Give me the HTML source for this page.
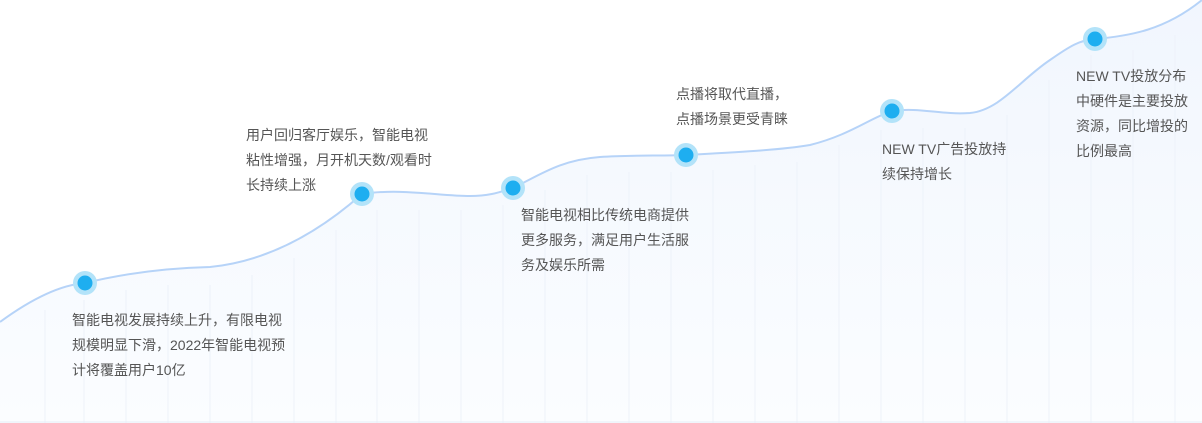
<!DOCTYPE html>
<html><head><meta charset="utf-8"><style>
body{margin:0;width:1202px;height:423px;overflow:hidden;background:#fff;position:relative;font-family:"Liberation Sans","Noto Sans CJK SC",sans-serif;}
.t{position:absolute;font-size:14px;line-height:25px;color:#555;}
</style></head><body>
<svg width="1202" height="423" style="position:absolute;left:0;top:0">
<defs><linearGradient id="g" x1="0" y1="0" x2="0" y2="1"><stop offset="0" stop-color="#f1f6fe"/><stop offset="1" stop-color="#fbfdff"/></linearGradient></defs>
<path d="M0,322 C30,300 60,285 85,283 C130,272 170,268 210,267 C260,262 310,240 362,194 C400,188 440,196 470,196 C490,196 500,192 513,188 C540,175 560,160 600,157 C630,155 660,156 686,155 C740,152 780,150 810,145 C850,135 870,118 892,111 C920,107 940,115 970,113 C1000,110 1020,80 1050,60 C1070,46 1080,40 1095,39 C1130,36 1165,30 1202,0 L1202,423 L0,423 Z" fill="url(#g)"/>
<g stroke="#edf2f9" stroke-width="1">
<line x1="45" y1="310" x2="45" y2="423"/><line x1="84" y1="300" x2="84" y2="423"/><line x1="126" y1="290" x2="126" y2="423"/><line x1="168" y1="285" x2="168" y2="423"/><line x1="210" y1="285" x2="210" y2="423"/><line x1="252" y1="275" x2="252" y2="423"/><line x1="294" y1="258" x2="294" y2="423"/><line x1="336" y1="230" x2="336" y2="423"/><line x1="377" y1="210" x2="377" y2="423"/><line x1="419" y1="210" x2="419" y2="423"/><line x1="461" y1="210" x2="461" y2="423"/><line x1="503" y1="205" x2="503" y2="423"/><line x1="545" y1="190" x2="545" y2="423"/><line x1="587" y1="175" x2="587" y2="423"/><line x1="629" y1="172" x2="629" y2="423"/><line x1="671" y1="172" x2="671" y2="423"/><line x1="713" y1="170" x2="713" y2="423"/><line x1="755" y1="165" x2="755" y2="423"/><line x1="797" y1="162" x2="797" y2="423"/><line x1="839" y1="145" x2="839" y2="423"/><line x1="881" y1="130" x2="881" y2="423"/><line x1="923" y1="128" x2="923" y2="423"/><line x1="965" y1="128" x2="965" y2="423"/><line x1="1007" y1="115" x2="1007" y2="423"/><line x1="1049" y1="80" x2="1049" y2="423"/><line x1="1091" y1="55" x2="1091" y2="423"/><line x1="1133" y1="50" x2="1133" y2="423"/><line x1="1175" y1="35" x2="1175" y2="423"/>
</g>
<line x1="0" y1="422" x2="1202" y2="422" stroke="#e6edf7"/>
<path d="M0,322 C30,300 60,285 85,283 C130,272 170,268 210,267 C260,262 310,240 362,194 C400,188 440,196 470,196 C490,196 500,192 513,188 C540,175 560,160 600,157 C630,155 660,156 686,155 C740,152 780,150 810,145 C850,135 870,118 892,111 C920,107 940,115 970,113 C1000,110 1020,80 1050,60 C1070,46 1080,40 1095,39 C1130,36 1165,30 1202,0" fill="none" stroke="#b6d3f8" stroke-width="2"/>
<g>
<circle cx="85" cy="283" r="12" fill="#b3e3f9"/><circle cx="85" cy="283" r="7.5" fill="#1eaef0"/>
<circle cx="362" cy="194" r="12" fill="#b3e3f9"/><circle cx="362" cy="194" r="7.5" fill="#1eaef0"/>
<circle cx="513" cy="188" r="12" fill="#b3e3f9"/><circle cx="513" cy="188" r="7.5" fill="#1eaef0"/>
<circle cx="686" cy="155" r="12" fill="#b3e3f9"/><circle cx="686" cy="155" r="7.5" fill="#1eaef0"/>
<circle cx="892" cy="111" r="12" fill="#b3e3f9"/><circle cx="892" cy="111" r="7.5" fill="#1eaef0"/>
<circle cx="1095" cy="39" r="12" fill="#b3e3f9"/><circle cx="1095" cy="39" r="7.5" fill="#1eaef0"/>
</g>
</svg>
<div class="t" style="left:72px;top:308px">智能电视发展持续上升，有限电视<br>规模明显下滑，2022年智能电视预<br>计将覆盖用户10亿</div>
<div class="t" style="left:246px;top:123px">用户回归客厅娱乐，智能电视<br>粘性增强，月开机天数/观看时<br>长持续上涨</div>
<div class="t" style="left:521px;top:203px">智能电视相比传统电商提供<br>更多服务，满足用户生活服<br>务及娱乐所需</div>
<div class="t" style="left:676px;top:82px">点播将取代直播，<br>点播场景更受青睐</div>
<div class="t" style="left:882px;top:137px">NEW TV广告投放持<br>续保持增长</div>
<div class="t" style="left:1076px;top:64px">NEW TV投放分布<br>中硬件是主要投放<br>资源，同比增投的<br>比例最高</div>
</body></html>
